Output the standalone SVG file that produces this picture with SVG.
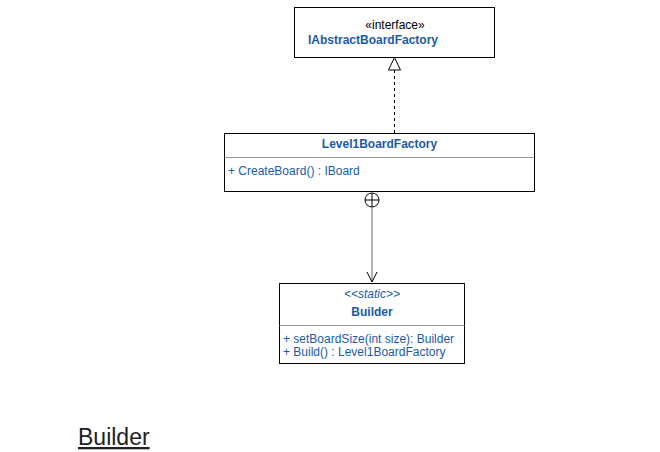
<svg xmlns="http://www.w3.org/2000/svg" width="660" height="452" viewBox="0 0 660 452">
<defs>
<style>
.box{fill:#fff;stroke:#000;stroke-width:1}
.div{stroke:#999;stroke-width:1}
.t{font-family:"Liberation Sans",Arial,sans-serif;font-size:12px;fill:#1A5BA8}
.b{font-weight:bold}
.k{fill:#000}
</style>
</defs>
<g id="connectors">
<line x1="394.5" y1="70" x2="394.5" y2="133" stroke="#000" stroke-dasharray="3,3"/>
<path d="M388.5,70 L394.5,57.5 L400.5,70 Z" fill="#fff" stroke="#000"/>
<circle cx="372" cy="200" r="7" fill="#fff" stroke="#000"/>
<line x1="365" y1="200" x2="379" y2="200" stroke="#000"/>
<line x1="372" y1="193" x2="372" y2="207" stroke="#000"/>
<line x1="372" y1="207" x2="372" y2="282" stroke="#808080" stroke-width="1.2"/>
<path d="M367,272 L372,282 L377,272" fill="none" stroke="#000"/>
</g>
<g id="IAbstractBoardFactory">
<rect class="box" x="294.5" y="7.5" width="200" height="50"/>
<text class="t k" x="395" y="29" text-anchor="middle">«interface»</text>
<text class="t b" x="308" y="44">IAbstractBoardFactory</text>
</g>
<g id="Level1BoardFactory">
<rect class="box" x="224.5" y="133.5" width="310" height="58"/>
<line class="div" x1="224.5" y1="157.5" x2="534.5" y2="157.5"/>
<text class="t b" x="379.5" y="148" text-anchor="middle">Level1BoardFactory</text>
<text class="t" x="228" y="175">+ CreateBoard() : IBoard</text>
</g>
<g id="Builder">
<rect class="box" x="279.5" y="283.5" width="185" height="80"/>
<line class="div" x1="279.5" y1="325.5" x2="464.5" y2="325.5"/>
<text class="t" x="372" y="298" text-anchor="middle" font-style="italic">&lt;&lt;static&gt;&gt;</text>
<text class="t b" x="372" y="316" text-anchor="middle">Builder</text>
<text class="t" x="283" y="343">+ setBoardSize(int size): Builder</text>
<text class="t" x="283" y="356">+ Build() : Level1BoardFactory</text>
</g>
<g id="title">
<text x="78" y="445" font-family="'Liberation Sans',Arial,sans-serif" font-size="23" fill="#222" text-decoration="underline">Builder</text>
</g>
</svg>
